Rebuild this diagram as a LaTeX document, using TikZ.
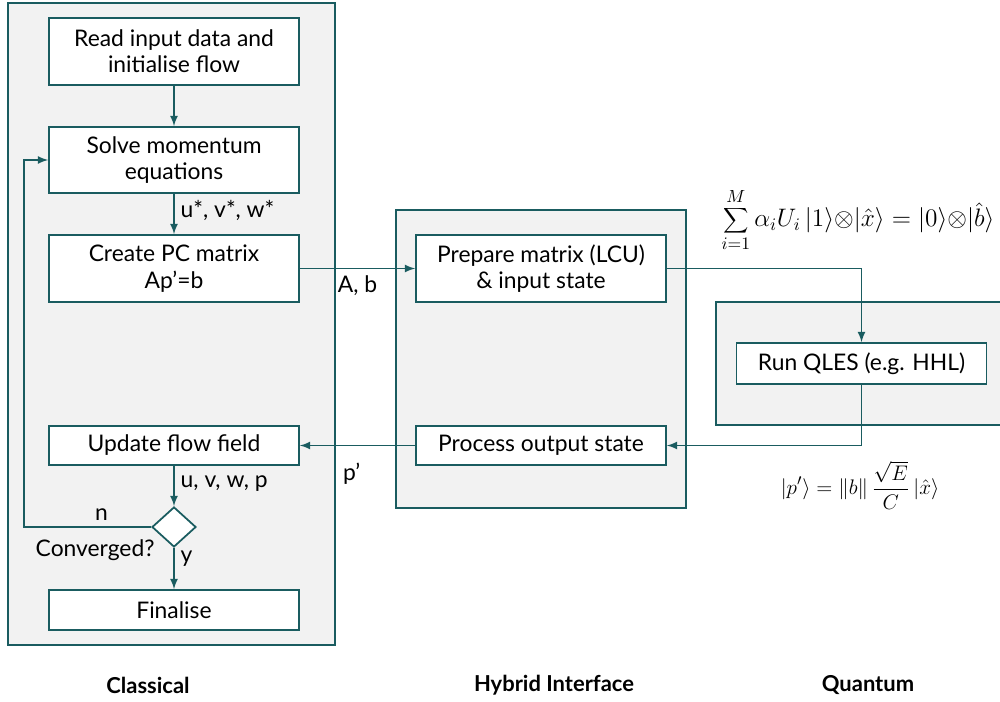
\documentclass[tikz,border=0pt]{standalone}
\usepackage{fontspec}
\setmainfont{Lato}
\usetikzlibrary{shapes.geometric}
\definecolor{lineteal}{HTML}{1A5C60}
\definecolor{panelgray}{HTML}{F2F2F2}
\begin{document}
\begin{tikzpicture}[>=latex, x=0.02cm, y=-0.02cm,
  box/.style={draw=lineteal, line width=1pt, fill=white, minimum width=5cm,
    align=center, inner sep=2pt, font=\fontsize{13}{15}\selectfont},
  panel/.style={draw=lineteal, line width=1.1pt, fill=panelgray},
  flow/.style={->, lineteal, line width=1pt},
  lbl/.style={text=black, font=\fontsize{13}{15}\selectfont},
  head/.style={text=black, font=\bfseries\fontsize{12.5}{15}\selectfont}]
\clip (0,0) rectangle (1000,702);
\fill[white] (0,0) rectangle (1000,702);
% panels
\draw[panel] (8,3) rectangle (335,645);
\draw[panel] (396,210) rectangle (686,508);
\draw[panel] (716,302) rectangle (1010,425);

\path
(174,51.5)  node[box, minimum height=1.34cm] (read) {Read input data and\\initialise flow}
(174,160)   node[box, minimum height=1.32cm] (solve) {Solve momentum\\equations}
(174,268.5) node[box, minimum height=1.34cm] (pc) {Create PC matrix\\Ap’=b}
(174,445.5) node[box, minimum height=0.78cm] (upd) {Update flow field}
(174,527)   node[diamond, draw=lineteal, line width=1pt, fill=white, inner sep=0pt,
                 minimum width=0.88cm, minimum height=0.8cm] (conv) {}
(174,610)   node[box, minimum height=0.8cm] (fin) {Finalise}

(541,268.5) node[box, minimum height=1.34cm] (prep) {Prepare matrix (LCU)\\\& input state}
(541,445.5) node[box, minimum height=0.78cm] (proc) {Process output state}
(861.5,363.5) node[box, minimum height=0.82cm] (qles) {Run QLES (e.g. HHL)};

\path (conv.west) ++(-56,23) node[lbl] (convq) {Converged?};

\draw[flow] (read)--(solve);
\draw[flow] (solve)--(pc) node[pos=.42, right, lbl]{u*, v*, w*};
\draw[flow] (upd)--(conv) node[pos=.43, right, lbl]{u, v, w, p};
\draw[flow] (conv)--(fin) node[pos=.25, right, lbl]{y};
\draw[flow] (conv.west)--++(-127,0) node[pos=.39, above, lbl]{n} |- (solve.west);

\draw[flow] (pc)--(prep) node[pos=.5, below, lbl]{A, b};
\draw[flow] (proc)--(upd) node[pos=.55, below=6pt, lbl]{p’};
\draw[flow] (prep.east) -| (qles.north);
\draw[flow] (qles.south) |- (proc.east);

% formulas
\node[lbl, font=\fontsize{14}{16}\selectfont] (lcu) at (858,220)
  {$\displaystyle\sum_{i=1}^{M}\alpha_i U_i\,|1\rangle{\otimes}|\hat{x}\rangle = |0\rangle{\otimes}\big|\hat{b}\big\rangle$};
\node[lbl, font=\fontsize{13}{15}\selectfont] (pres) at (860,485)
  {$\displaystyle|p'\rangle = \|b\|\,\frac{\sqrt{E}}{C}\,|\hat{x}\rangle$};

% headings
\node[head] (hcl) at (148,685) {Classical};
\node[head] (hhy) at (554,685) {Hybrid Interface};
\node[head] (hqu) at (868,685) {Quantum};
\end{tikzpicture}
\end{document}
